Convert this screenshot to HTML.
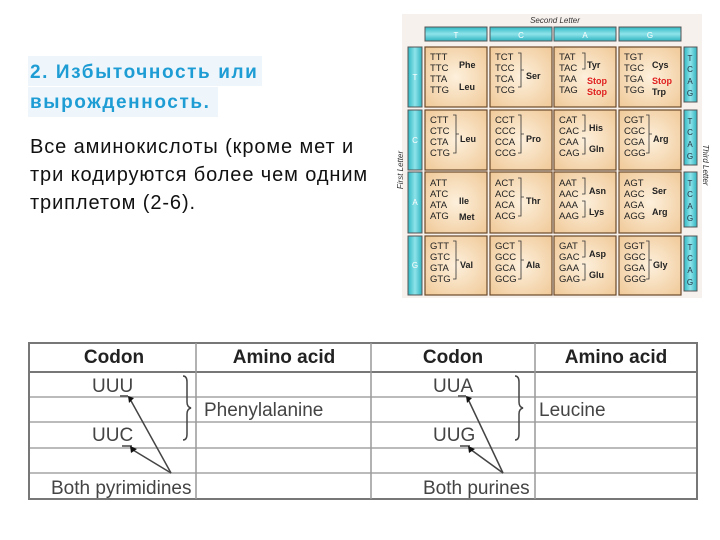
<!DOCTYPE html>
<html><head><meta charset="utf-8"><style>
html,body{margin:0;padding:0;background:#fff;}
svg{display:block}
</style></head><body>
<svg width="720" height="540" viewBox="0 0 720 540" xmlns="http://www.w3.org/2000/svg" font-family="Liberation Sans, sans-serif">
<defs>
<radialGradient id="pe" cx="50%" cy="50%" r="70%"><stop offset="0" stop-color="#fdf0dc"/><stop offset="1" stop-color="#f0c998"/></radialGradient>
<linearGradient id="th" x1="0" y1="0" x2="0" y2="1"><stop offset="0" stop-color="#30b9c4"/><stop offset="0.5" stop-color="#8fe3ea"/><stop offset="1" stop-color="#2fb4c0"/></linearGradient>
<linearGradient id="tv" x1="0" y1="0" x2="1" y2="0"><stop offset="0" stop-color="#30b9c4"/><stop offset="0.5" stop-color="#8fe3ea"/><stop offset="1" stop-color="#2fb4c0"/></linearGradient>
</defs>
<!-- left text -->
<rect x="28" y="56" width="234" height="30" fill="#eef6fb"/>
<rect x="28" y="87" width="190" height="30" fill="#eef6fb"/>
<text x="30" y="78" font-family="Liberation Sans, DejaVu Sans, sans-serif" font-size="19" font-weight="bold" letter-spacing="1.6" fill="#1e9cd4">2. Избыточность или</text>
<text x="30" y="108" font-family="Liberation Sans, DejaVu Sans, sans-serif" font-size="19" font-weight="bold" letter-spacing="1.6" fill="#1e9cd4">вырожденность.</text>
<text x="30" y="153" font-size="20" letter-spacing="0.9" fill="#111">Все аминокислоты (кроме мет и</text>
<text x="30" y="181" font-size="20" letter-spacing="0.9" fill="#111">три кодируются более чем одним</text>
<text x="30" y="209" font-size="20" letter-spacing="0.9" fill="#111">триплетом (2-6).</text>

<!-- codon table -->
<rect x="402" y="14" width="300" height="284" fill="#f7f1ee"/>
<text x="555" y="23" font-size="8" font-style="italic" fill="#333" text-anchor="middle">Second Letter</text>
<g stroke="#555" stroke-width="1">
<rect x="425" y="27" width="62" height="14" fill="url(#th)"/>
<rect x="490" y="27" width="62" height="14" fill="url(#th)"/>
<rect x="554" y="27" width="62" height="14" fill="url(#th)"/>
<rect x="619" y="27" width="62" height="14" fill="url(#th)"/>
<rect x="408" y="47" width="14" height="60" fill="url(#tv)"/>
<rect x="408" y="110" width="14" height="60" fill="url(#tv)"/>
<rect x="408" y="172" width="14" height="61" fill="url(#tv)"/>
<rect x="408" y="236" width="14" height="59" fill="url(#tv)"/>
<rect x="684" y="47" width="13" height="55" fill="url(#tv)"/>
<rect x="684" y="110" width="13" height="55" fill="url(#tv)"/>
<rect x="684" y="172" width="13" height="55" fill="url(#tv)"/>
<rect x="684" y="236" width="13" height="55" fill="url(#tv)"/>
</g>
<g font-size="8" fill="#fff" text-anchor="middle">
<text x="456" y="38">T</text><text x="521" y="38">C</text><text x="585" y="38">A</text><text x="650" y="38">G</text>
<text x="415" y="80">T</text><text x="415" y="143">C</text><text x="415" y="205">A</text><text x="415" y="268">G</text>
</g>
<g font-size="8" fill="#234" text-anchor="middle">
<text x="690" y="61">T</text><text x="690" y="72">C</text><text x="690" y="84">A</text><text x="690" y="96">G</text>
<text x="690" y="124">T</text><text x="690" y="135">C</text><text x="690" y="147">A</text><text x="690" y="159">G</text>
<text x="690" y="186">T</text><text x="690" y="197">C</text><text x="690" y="209">A</text><text x="690" y="221">G</text>
<text x="690" y="250">T</text><text x="690" y="261">C</text><text x="690" y="273">A</text><text x="690" y="285">G</text>
</g>
<text transform="translate(403,170) rotate(-90)" font-size="8" font-style="italic" fill="#333" text-anchor="middle">First Letter</text>
<text transform="translate(703,165) rotate(90)" font-size="8" font-style="italic" fill="#333" text-anchor="middle">Third Letter</text>
<g stroke="#6b4a2a" stroke-width="1.2" fill="url(#pe)">
<rect x="425" y="47" width="62" height="60"/><rect x="490" y="47" width="62" height="60"/><rect x="554" y="47" width="62" height="60"/><rect x="619" y="47" width="62" height="60"/>
<rect x="425" y="110" width="62" height="60"/><rect x="490" y="110" width="62" height="60"/><rect x="554" y="110" width="62" height="60"/><rect x="619" y="110" width="62" height="60"/>
<rect x="425" y="172" width="62" height="61"/><rect x="490" y="172" width="62" height="61"/><rect x="554" y="172" width="62" height="61"/><rect x="619" y="172" width="62" height="61"/>
<rect x="425" y="236" width="62" height="59"/><rect x="490" y="236" width="62" height="59"/><rect x="554" y="236" width="62" height="59"/><rect x="619" y="236" width="62" height="59"/>
</g>
<g font-size="9.5" fill="#222">
<text x="430" y="60">TTT</text><text x="430" y="71">TTC</text><text x="430" y="82">TTA</text><text x="430" y="93">TTG</text>
<text x="495" y="60">TCT</text><text x="495" y="71">TCC</text><text x="495" y="82">TCA</text><text x="495" y="93">TCG</text>
<text x="559" y="60">TAT</text><text x="559" y="71">TAC</text><text x="559" y="82">TAA</text><text x="559" y="93">TAG</text>
<text x="624" y="60">TGT</text><text x="624" y="71">TGC</text><text x="624" y="82">TGA</text><text x="624" y="93">TGG</text>
<text x="430" y="123">CTT</text><text x="430" y="134">CTC</text><text x="430" y="145">CTA</text><text x="430" y="156">CTG</text>
<text x="495" y="123">CCT</text><text x="495" y="134">CCC</text><text x="495" y="145">CCA</text><text x="495" y="156">CCG</text>
<text x="559" y="123">CAT</text><text x="559" y="134">CAC</text><text x="559" y="145">CAA</text><text x="559" y="156">CAG</text>
<text x="624" y="123">CGT</text><text x="624" y="134">CGC</text><text x="624" y="145">CGA</text><text x="624" y="156">CGG</text>
<text x="430" y="186">ATT</text><text x="430" y="197">ATC</text><text x="430" y="208">ATA</text><text x="430" y="219">ATG</text>
<text x="495" y="186">ACT</text><text x="495" y="197">ACC</text><text x="495" y="208">ACA</text><text x="495" y="219">ACG</text>
<text x="559" y="186">AAT</text><text x="559" y="197">AAC</text><text x="559" y="208">AAA</text><text x="559" y="219">AAG</text>
<text x="624" y="186">AGT</text><text x="624" y="197">AGC</text><text x="624" y="208">AGA</text><text x="624" y="219">AGG</text>
<text x="430" y="249">GTT</text><text x="430" y="260">GTC</text><text x="430" y="271">GTA</text><text x="430" y="282">GTG</text>
<text x="495" y="249">GCT</text><text x="495" y="260">GCC</text><text x="495" y="271">GCA</text><text x="495" y="282">GCG</text>
<text x="559" y="249">GAT</text><text x="559" y="260">GAC</text><text x="559" y="271">GAA</text><text x="559" y="282">GAG</text>
<text x="624" y="249">GGT</text><text x="624" y="260">GGC</text><text x="624" y="271">GGA</text><text x="624" y="282">GGG</text>
</g>
<g font-size="9" font-weight="bold" fill="#222">
<text x="459" y="68">Phe</text><text x="459" y="90">Leu</text>
<text x="526" y="79">Ser</text>
<text x="587" y="68">Tyr</text><text x="587" y="84" fill="#e02020">Stop</text><text x="587" y="95" fill="#e02020">Stop</text>
<text x="652" y="68">Cys</text><text x="652" y="84" fill="#e02020">Stop</text><text x="652" y="95">Trp</text>
<text x="460" y="142">Leu</text><text x="526" y="142">Pro</text>
<text x="589" y="131">His</text><text x="589" y="152">Gln</text>
<text x="653" y="142">Arg</text>
<text x="459" y="204">Ile</text><text x="459" y="220">Met</text>
<text x="526" y="204">Thr</text>
<text x="589" y="194">Asn</text><text x="589" y="215">Lys</text>
<text x="652" y="194">Ser</text><text x="652" y="215">Arg</text>
<text x="460" y="268">Val</text><text x="526" y="268">Ala</text>
<text x="589" y="257">Asp</text><text x="589" y="278">Glu</text>
<text x="653" y="268">Gly</text>
</g>
<g stroke="#333" stroke-width="0.8" fill="none">
<path d="M518 53 h3 v34 h-3 M521 70 h3"/>
<path d="M453 115 h3 v38 h-3 M456 134 h3"/>
<path d="M518 115 h3 v38 h-3 M521 134 h3"/>
<path d="M582 115 h3 v16 h-3 M582 138 h3 v16 h-3"/>
<path d="M646 115 h3 v38 h-3 M649 134 h3"/>
<path d="M518 178 h3 v38 h-3 M521 197 h3"/>
<path d="M582 178 h3 v16 h-3 M582 201 h3 v16 h-3"/>
<path d="M582 53 h3 v16 h-3"/>
<path d="M453 241 h3 v38 h-3 M456 260 h3"/>
<path d="M518 241 h3 v38 h-3 M521 260 h3"/>
<path d="M582 241 h3 v16 h-3 M582 264 h3 v16 h-3"/>
<path d="M646 241 h3 v38 h-3 M649 260 h3"/>
</g>

<!-- bottom table -->
<g stroke="#bbb" stroke-width="2">
<line x1="29" y1="397" x2="697" y2="397"/><line x1="29" y1="422" x2="697" y2="422"/>
<line x1="29" y1="448" x2="697" y2="448"/><line x1="29" y1="473" x2="697" y2="473"/>
</g>
<g stroke="#777" stroke-width="2" fill="none">
<rect x="29" y="343" width="668" height="156"/>
<line x1="29" y1="372" x2="697" y2="372"/>
</g>
<g stroke="#999" stroke-width="1.5">
<line x1="196" y1="343" x2="196" y2="499"/><line x1="371" y1="343" x2="371" y2="499"/><line x1="535" y1="343" x2="535" y2="499"/>
</g>
<g font-size="19" font-weight="bold" fill="#222" text-anchor="middle">
<text x="114" y="363">Codon</text><text x="284" y="363">Amino acid</text>
<text x="453" y="363">Codon</text><text x="616" y="363">Amino acid</text>
</g>
<g font-size="19" fill="#444">
<text x="92" y="392">UUU</text><text x="92" y="441">UUC</text>
<text x="204" y="416">Phenylalanine</text>
<text x="51" y="494">Both pyrimidines</text>
<text x="433" y="392">UUA</text><text x="433" y="441">UUG</text>
<text x="539" y="416">Leucine</text>
<text x="423" y="494">Both purines</text>
</g>
<g stroke="#444" stroke-width="1.5" fill="none">
<path d="M183 376 q4 0 4 6 v20 q0 5 4 6 q-4 1 -4 6 v20 q0 6 -4 6"/>
<path d="M515 376 q4 0 4 6 v20 q0 5 4 6 q-4 1 -4 6 v20 q0 6 -4 6"/>
<line x1="171" y1="473" x2="130" y2="399"/><line x1="171" y1="473" x2="133" y2="450"/>
<line x1="503" y1="473" x2="468" y2="399"/><line x1="503" y1="473" x2="470" y2="449"/>
<line x1="120" y1="396" x2="128" y2="396"/><line x1="122" y1="446" x2="132" y2="446"/>
<line x1="458" y1="396" x2="466" y2="396"/><line x1="460" y1="446" x2="470" y2="446"/>
</g>
<g fill="#111">
<polygon points="128,396 134,398 129,403"/><polygon points="130,446 137,449 131,453"/>
<polygon points="466,396 472,398 467,403"/><polygon points="468,446 475,449 469,453"/>
</g>
</svg>
</body></html>
